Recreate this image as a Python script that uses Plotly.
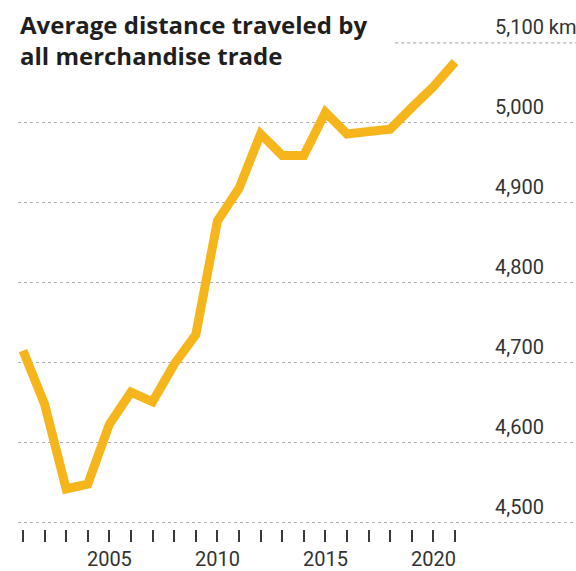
import plotly.graph_objects as go

years = list(range(2001, 2022))
distance_km = [4715, 4648, 4542, 4548, 4623, 4663, 4651, 4698, 4735, 4877,
               4918, 4986, 4959, 4959, 5013, 4986, 4989, 4992, 5019, 5045, 5076]

label_years = [2005, 2010, 2015, 2020]
y_ticks = [4500, 4600, 4700, 4800, 4900, 5000, 5100]
y_tick_text = ["4,500", "4,600", "4,700", "4,800", "4,900", "5,000", "5,100 km"]
title_lines = ["Average distance traveled by", "all merchandise trade"]

LINE_COLOR = "#F6B51A"
GRID_COLOR = "#b0b0b0"
TEXT_COLOR = "#333333"

fig = go.Figure()
fig.add_trace(go.Scatter(
    x=years, y=distance_km, mode="lines",
    line=dict(color=LINE_COLOR, width=9, shape="linear"),
    hoverinfo="skip", showlegend=False,
))

fig.update_layout(
    width=576, height=571,
    margin=dict(l=18, r=0, t=10, b=38),
    paper_bgcolor="white", plot_bgcolor="white",
    font=dict(family="Roboto", color=TEXT_COLOR),
    xaxis=dict(
        range=[2000.77, 2026.6],
        tickvals=years,
        ticktext=[str(y) if y in label_years else "" for y in years],
        ticks="outside", ticklen=12, tickwidth=2, tickcolor="#3a3a3a",
        tickfont=dict(size=20, color=TEXT_COLOR, family="Roboto"),
        showgrid=False, zeroline=False, showline=False,
    ),
    yaxis=dict(
        range=[4491.9, 5141],
        tickvals=y_ticks[:-1],
        showticklabels=False,
        showgrid=True, gridcolor=GRID_COLOR, gridwidth=1.2, griddash="dot",
        zeroline=False, showline=False, ticks="",
    ),
)

# top gridline, partially hidden by the title
fig.add_shape(type="line", xref="paper", yref="y",
              x0=0.676, x1=1, y0=y_ticks[-1], y1=y_ticks[-1],
              line=dict(color=GRID_COLOR, width=1.2, dash="dot"), layer="below")

for v, t in zip(y_ticks, y_tick_text):
    fig.add_annotation(x=0.851, xref="paper", y=v, yref="y", text=t,
                       showarrow=False, xanchor="left", yanchor="middle",
                       yshift=16, font=dict(size=20, color=TEXT_COLOR, family="Roboto"))

fig.add_annotation(x=0, xref="paper", y=1 + 4 / 523, yref="paper",
                   text="<br>".join("<b>" + s + "</b>" for s in title_lines),
                   showarrow=False, xanchor="left", yanchor="top", align="left",
                   font=dict(size=24, color="#1f1f1f", family="Open Sans"))

fig.write_html("out.html")
